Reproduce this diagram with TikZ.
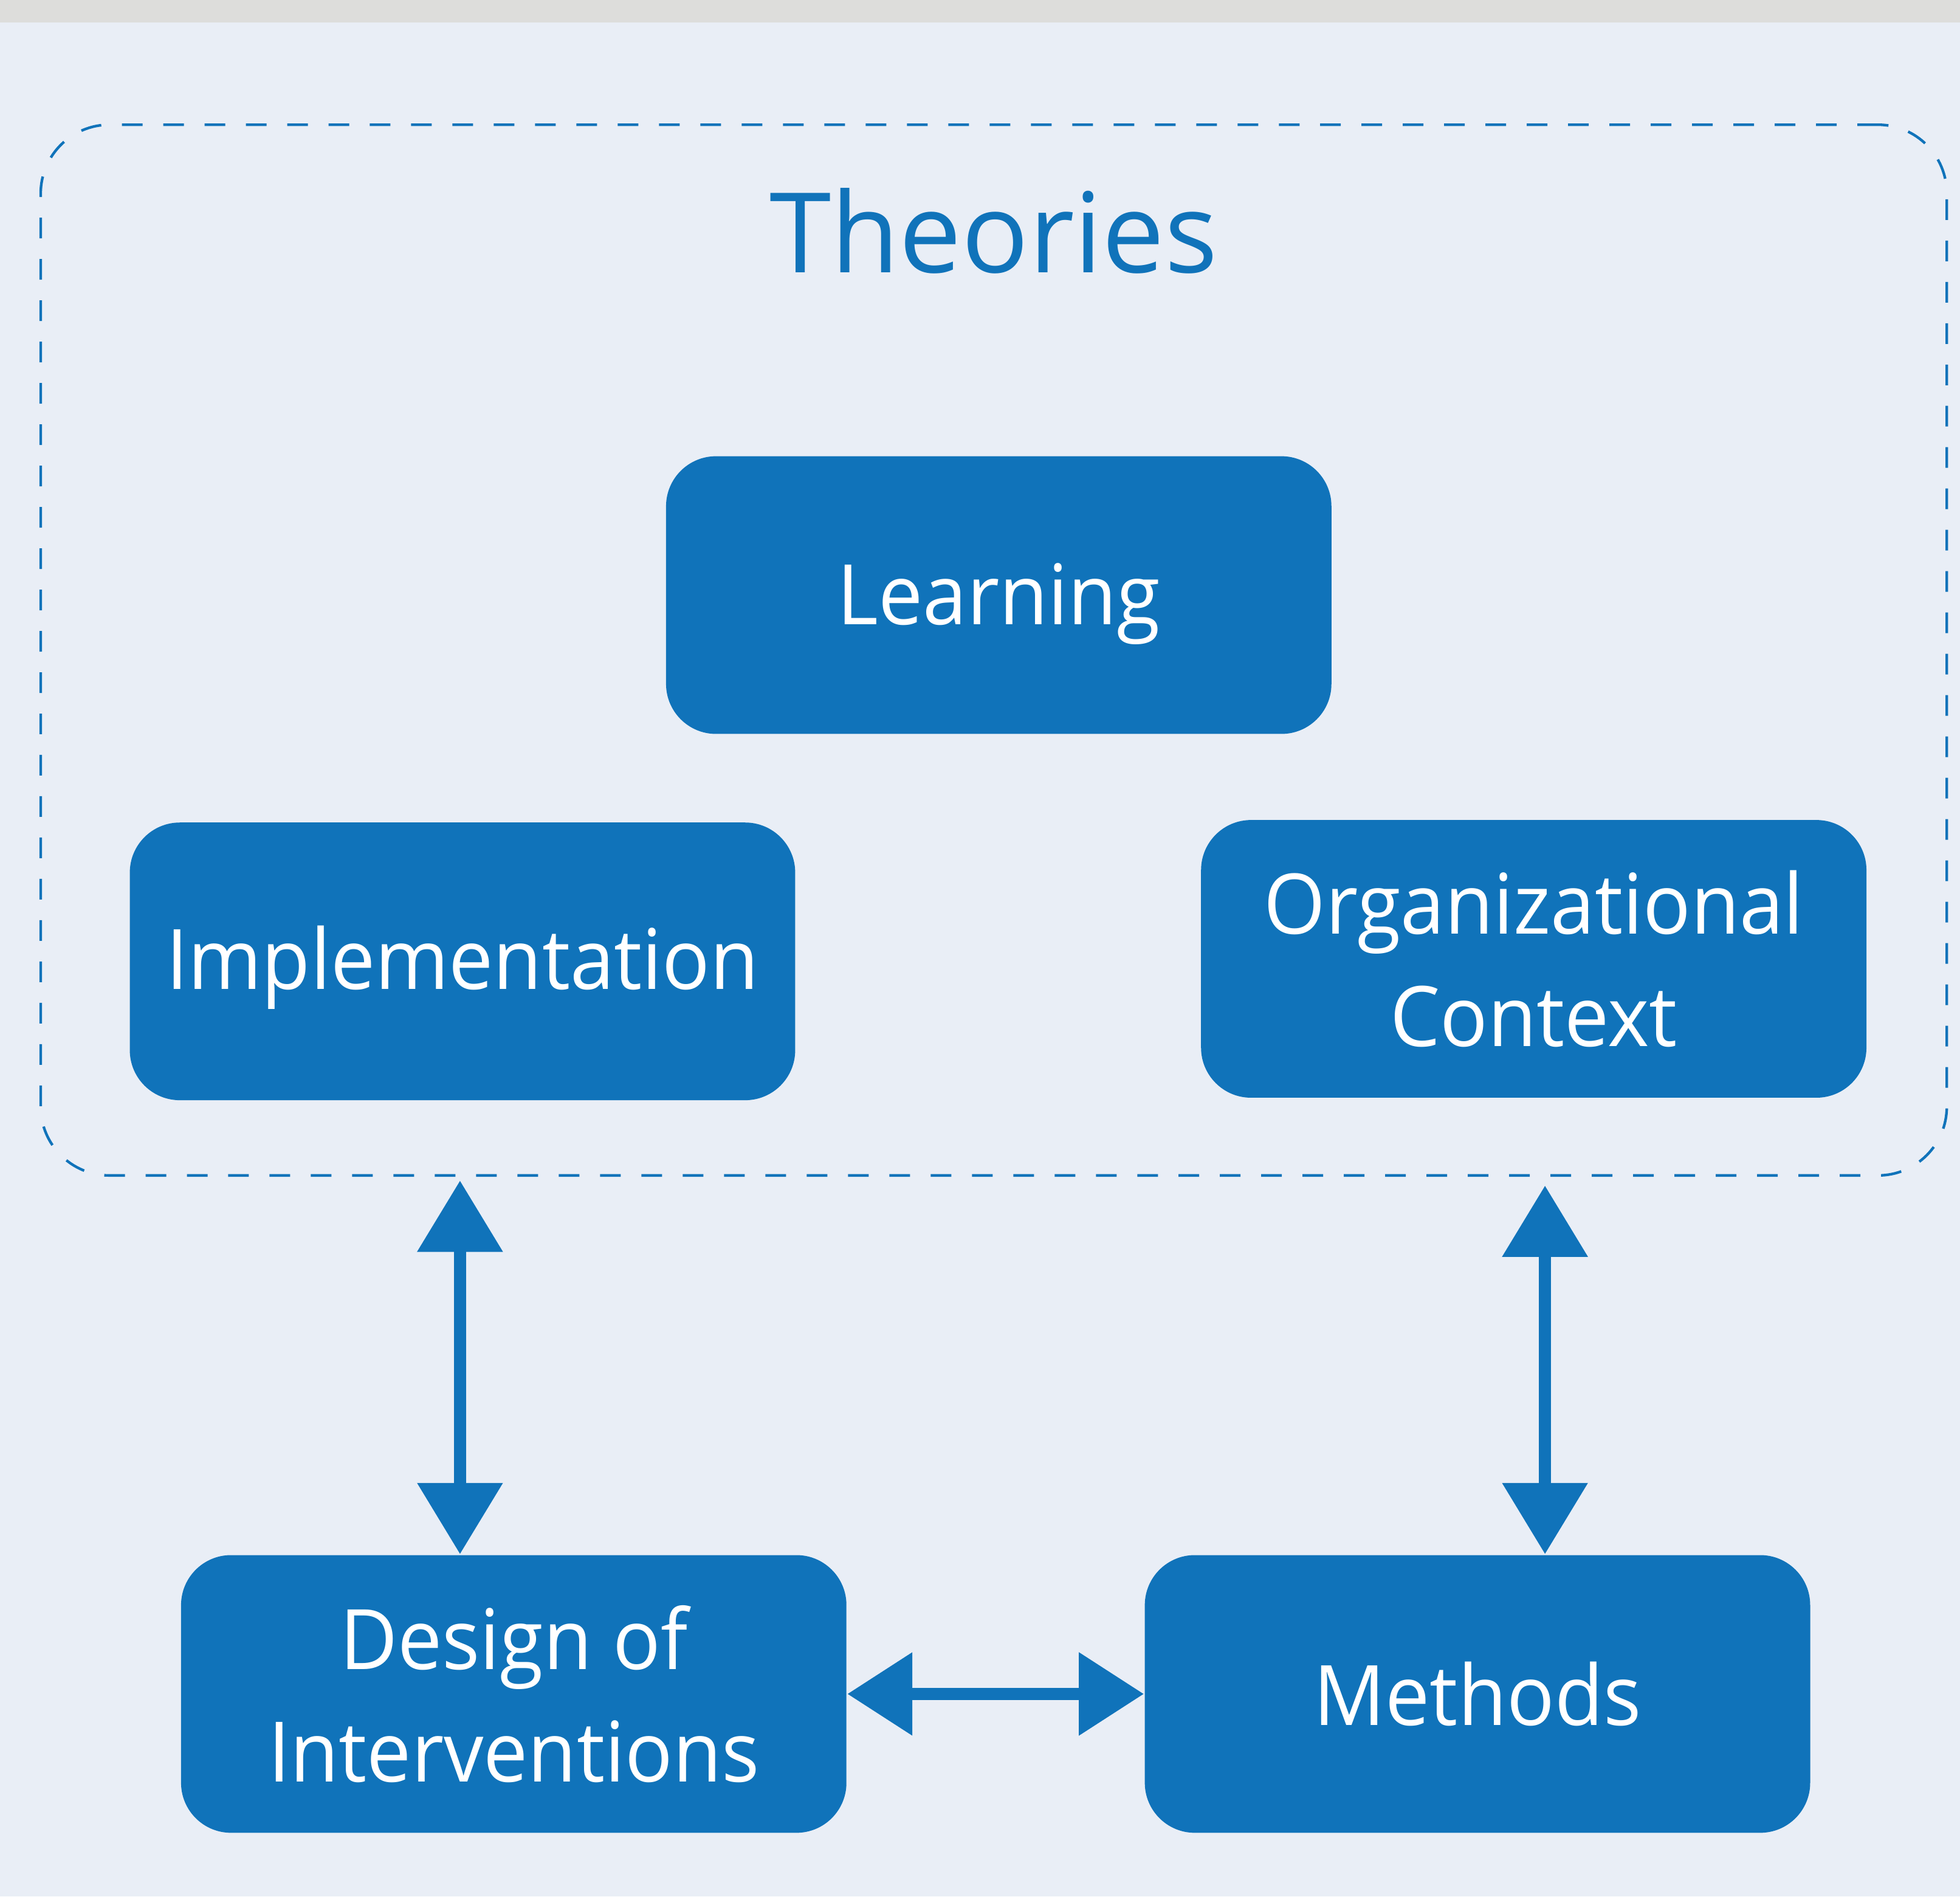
\documentclass[tikz,border=0pt]{standalone}
\usepackage{fontspec}
\setmainfont{Open Sans}
\newfontfamily\boxfont[FakeStretch=0.95]{Open Sans}
\usetikzlibrary{arrows.meta}
\definecolor{bgc}{HTML}{E9EEF6}
\definecolor{barc}{HTML}{DDDDDB}
\definecolor{boxc}{HTML}{1073BA}
\tikzset{
  box/.style={draw=none, fill=boxc, rounded corners=0.4cm, minimum width=5.32cm, minimum height=2.22cm,
    text=white, align=center, font=\boxfont\fontsize{19}{25.6}\selectfont, inner sep=0pt},
  frame/.style={draw=boxc, dash pattern=on 4.7pt off 4.7pt, line width=0.6pt, rounded corners=0.55cm,
    minimum width=15.24cm, minimum height=8.4cm, inner sep=0pt},
  biarrow/.style={draw=boxc, line width=2.85pt, {Triangle[length=0.57cm,width=0.66cm]}-{Triangle[length=0.57cm,width=0.66cm]}},
  hbiarrow/.style={draw=boxc, line width=2.85pt, {Triangle[length=0.52cm,width=0.64cm]}-{Triangle[length=0.52cm,width=0.64cm]}},
}
\begin{document}
\begin{tikzpicture}[x=0.01cm, y=-0.01cm]
\useasboundingbox (0,0) rectangle (1568,1517);
\fill[bgc] (0,0) rectangle (1568,1517);
\fill[barc] (0,0) rectangle (1568,18);
\node[frame] (theo) at (795,520) {};
\node[anchor=base, text=boxc, font=\fontsize{25.3}{30}\selectfont, inner sep=0pt] (title) at (795,218) {Theories};
\node[box] (learn) at (799,476) {\raisebox{-0.07cm}[\height][\depth]{Learning}};
\node[box] (impl) at (370,769) {\raisebox{-0.05cm}[\height][\depth]{Implementation}};
\node[box] (org) at (1227,767) {Organizational\\Context};
\node[box] (dsg) at (411,1355) {Design of\\Interventions};
\node[box] (meth) at (1182,1355) {Methods};
\coordinate (la) at (368,0);
\coordinate (ra) at (1236,0);
\draw[biarrow, shorten <=0.03cm] (theo.south -| la) -- (dsg.north -| la);
\draw[biarrow, shorten <=0.07cm] (theo.south -| ra) -- (meth.north -| ra);
\draw[hbiarrow] (dsg.east) -- (meth.west);
\end{tikzpicture}
\end{document}
